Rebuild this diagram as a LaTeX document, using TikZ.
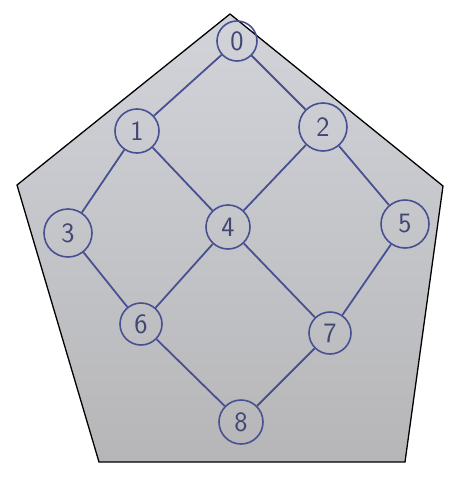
\documentclass[tikz,border=0pt]{standalone}
\usepackage{fontspec}
\begin{document}
\begin{tikzpicture}[x=1pt,y=-1pt,
  vtx/.style={circle,draw=ink,line width=1.6pt,minimum size=44pt,inner sep=0pt,
    text=digit,font=\fontsize{28}{28}\selectfont\sffamily},
  edge/.style={draw=ink,line width=1.8pt}]
\definecolor{ink}{RGB}{72,80,145}
\definecolor{digit}{RGB}{66,70,115}
\definecolor{topgrey}{RGB}{210,212,218}
\definecolor{botgrey}{RGB}{182,182,184}
\useasboundingbox (0,0) rectangle (474,482);
\fill[white] (0,0) rectangle (474,482);
\shade[top color=topgrey,bottom color=botgrey]
  (230,14) -- (443,186) -- (405,462) -- (99,462) -- (17,185) -- cycle;
\draw[black,line width=1.3pt,line join=miter]
  (230,14) -- (443,186) -- (405,462) -- (99,462) -- (17,185) -- cycle;
\node[vtx,minimum size=40pt] (n0) at (237,41) {0};
\node[vtx,minimum size=44pt] (n1) at (137,131) {1};
\node[vtx,minimum size=48pt] (n2) at (323,127) {2};
\node[vtx,minimum size=48pt] (n3) at (68,233) {3};
\node[vtx,minimum size=44pt] (n4) at (228,227) {4};
\node[vtx,minimum size=48pt] (n5) at (405,224) {5};
\node[vtx,minimum size=42pt] (n6) at (141,324) {6};
\node[vtx,minimum size=42pt] (n7) at (330,333) {7};
\node[vtx,minimum size=44pt] (n8) at (241,422) {8};
\draw[edge] (n0) -- (n1);
\draw[edge] (n0) -- (n2);
\draw[edge] (n1) -- (n3);
\draw[edge] (n1) -- (n4);
\draw[edge] (n2) -- (n4);
\draw[edge] (n2) -- (n5);
\draw[edge] (n3) -- (n6);
\draw[edge] (n4) -- (n6);
\draw[edge] (n4) -- (n7);
\draw[edge] (n5) -- (n7);
\draw[edge] (n6) -- (n8);
\draw[edge] (n7) -- (n8);
\end{tikzpicture}
\end{document}
